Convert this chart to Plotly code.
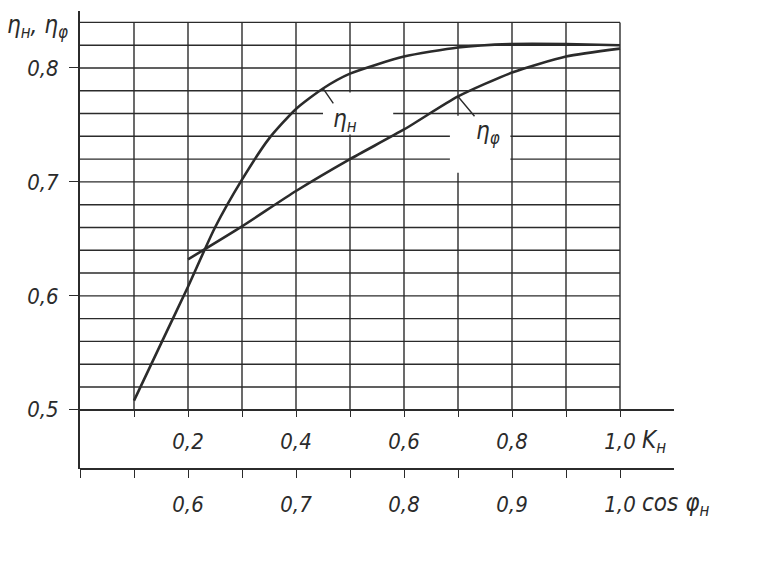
import plotly.graph_objects as go

# efficiency curves
k_n = [0.10, 0.15, 0.20, 0.25, 0.30, 0.35, 0.40, 0.45, 0.50, 0.60, 0.70, 0.80, 0.90, 1.00]
eta_n = [0.508, 0.558, 0.608, 0.660, 0.702, 0.738, 0.764, 0.782, 0.795, 0.810, 0.818, 0.821, 0.821, 0.820]

k_phi = [0.2, 0.3, 0.4, 0.5, 0.6, 0.7, 0.8, 0.9, 1.0]
eta_phi = [0.632, 0.661, 0.692, 0.720, 0.746, 0.775, 0.796, 0.810, 0.817]

# axes
k_ticks = [0.1, 0.2, 0.3, 0.4, 0.5, 0.6, 0.7, 0.8, 0.9, 1.0]
k_labels = ["", "0,2", "", "0,4", "", "0,6", "", "0,8", "", "1,0"]
cos_ticks = [0.5, 0.55, 0.6, 0.65, 0.7, 0.75, 0.8, 0.85, 0.9, 0.95, 1.0]
cos_labels = ["", "", "0,6", "", "0,7", "", "0,8", "", "0,9", "", "1,0"]
eta_ticks = [0.5, 0.6, 0.7, 0.8]
eta_labels = ["0,5", "0,6", "0,7", "0,8"]
grid_rows = [0.52, 0.54, 0.56, 0.58, 0.60, 0.62, 0.64, 0.66, 0.68, 0.70,
             0.72, 0.74, 0.76, 0.78, 0.80, 0.82, 0.84]

INK = "#2b2b2b"
FONT = "DejaVu Sans Condensed, Liberation Sans Narrow, Roboto, sans-serif"
Y_MIN, Y_MAX = 0.448, 0.85
K_MAX = 1.1

fig = go.Figure()

line_style = dict(color=INK, width=2.6, shape="spline", smoothing=0.6)
fig.add_trace(go.Scatter(x=k_n, y=eta_n, mode="lines", line=line_style, hoverinfo="skip"))
fig.add_trace(go.Scatter(x=k_phi, y=eta_phi, mode="lines", line=line_style, hoverinfo="skip"))
# invisible helper so the cos(phi) scale gets drawn
fig.add_trace(go.Scatter(x=cos_ticks, y=[Y_MIN] * len(cos_ticks), xaxis="x2", mode="markers",
                         marker=dict(opacity=0), hoverinfo="skip"))

# hand-drawn style grid: rows every 0.02, columns every 0.1 of K
shapes = []
grid_line = dict(color=INK, width=1.4)
for v in grid_rows:
    shapes.append(dict(type="line", xref="x", yref="y", x0=0, x1=1.0, y0=v, y1=v,
                       line=grid_line, layer="below"))
for k in k_ticks:
    shapes.append(dict(type="line", xref="x", yref="y", x0=k, x1=k, y0=0.5, y1=0.84,
                       line=grid_line, layer="below"))
# blank patches behind the curve labels
for x0, x1, y0, y1 in [(0.45, 0.58, 0.7415, 0.7785), (0.685, 0.797, 0.708, 0.758)]:
    shapes.append(dict(type="rect", xref="x", yref="y", x0=x0, x1=x1, y0=y0, y1=y1,
                       fillcolor="white", line=dict(width=0), layer="below"))

label_font = dict(family=FONT, size=24, color=INK, style="italic")
annotations = [
    dict(x=k_n[7], y=eta_n[7], xref="x", yref="y", text="η<sub>н</sub>", showarrow=True,
         arrowhead=0, arrowwidth=1.4, arrowcolor=INK, ax=22, ay=32, font=label_font),
    dict(x=k_phi[5], y=eta_phi[5], xref="x", yref="y", text="η<sub>φ</sub>", showarrow=True,
         arrowhead=0, arrowwidth=1.4, arrowcolor=INK, ax=30, ay=36, font=label_font),
    dict(x=0.0, y=1.0, xref="paper", yref="paper", text="η<sub>н</sub>, η<sub>φ</sub>",
         showarrow=False, xanchor="right", yanchor="top", xshift=-10, yshift=2,
         font=label_font),
    dict(x=1.0, y=0.5, xref="x", yref="y", text="K<sub>н</sub>", showarrow=False,
         xanchor="left", yanchor="top", xshift=20, yshift=-14, font=label_font),
    dict(x=1.0, y=Y_MIN, xref="x2", yref="y", text="cos φ<sub>н</sub>", showarrow=False,
         xanchor="left", yanchor="top", xshift=20, yshift=-18, font=label_font),
]

tick_font = dict(family=FONT, size=22, color=INK, style="italic")
fig.update_layout(
    width=766, height=564,
    margin=dict(l=80, r=92, t=11, b=95),
    paper_bgcolor="white", plot_bgcolor="white",
    showlegend=False,
    shapes=shapes, annotations=annotations,
    xaxis=dict(range=[0, K_MAX], anchor="free", position=(0.5 - Y_MIN) / (Y_MAX - Y_MIN),
               tickvals=k_ticks, ticktext=k_labels, ticks="outside", ticklen=6,
               tickwidth=1.4, tickcolor=INK, showline=True, linecolor=INK, linewidth=2,
               showgrid=False, zeroline=False, tickfont=tick_font, ticklabelstandoff=6),
    xaxis2=dict(range=[0.5, 0.5 + K_MAX / 2], overlaying="x", anchor="free", position=0,
                side="bottom", tickvals=cos_ticks, ticktext=cos_labels, ticks="outside",
                ticklen=8, tickwidth=1.4, tickcolor=INK, showline=True, linecolor=INK,
                linewidth=2, showgrid=False, zeroline=False, tickfont=tick_font,
                ticklabelstandoff=8),
    yaxis=dict(range=[Y_MIN, Y_MAX], tickvals=eta_ticks, ticktext=eta_labels,
               ticks="outside", ticklen=9, tickwidth=1.4, tickcolor=INK, showline=True,
               linecolor=INK, linewidth=2, showgrid=False, zeroline=False,
               tickfont=tick_font, ticklabelstandoff=6),
)

fig.write_html("out.html", config={"displayModeBar": False},
               post_script="document.body.style.margin='0px';")
